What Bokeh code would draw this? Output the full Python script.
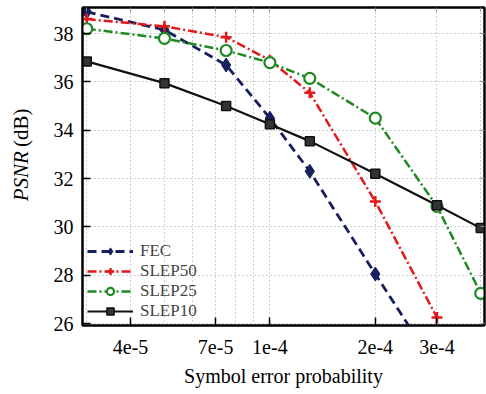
import math
from bokeh.plotting import figure
from bokeh.layouts import row
from bokeh.models import (FixedTicker, CustomJSTickFormatter, Legend, LegendItem,
                          Label, Range1d, LogAxis, LinearAxis)
from bokeh.embed import file_html
from bokeh.resources import INLINE

# ---- data ----
ser = [3e-5, 5e-5, 7.5e-5, 1e-4, 1.3e-4, 2e-4, 3e-4, 4e-4]
fec = [38.9, 38.15, 36.7, 34.5, 32.3, 28.05, 24.1]
slep50 = [38.6, 38.3, 37.85, 36.9, 35.55, 31.05, 26.25]
slep25 = [38.2, 37.8, 37.3, 36.8, 36.15, 34.5, 30.85, 27.25]
slep10 = [36.85, 35.95, 35.0, 34.25, 33.55, 32.2, 30.9, 29.95]
series_names = ["FEC", "SLEP50", "SLEP25", "SLEP10"]
x_major = [4e-5, 7e-5, 1e-4, 2e-4, 3e-4]
x_minor = [3e-5, 5e-5, 6e-5, 8e-5, 9e-5, 4e-4]
y_ticks = [26, 28, 30, 32, 34, 36, 38]

FONT = "Liberation Serif"
XMIN, XMAX = 2.917e-5, 4.1e-4
YMIN, YMAX = 25.92, 39.08
H = 392
LW = 40

p = figure(width=486 - LW, height=H, x_axis_type="log",
           x_range=Range1d(XMIN, XMAX), y_range=Range1d(YMIN, YMAX),
           output_backend="svg", toolbar_location=None,
           min_border_left=82 - LW, min_border_right=2, min_border_top=7,
           min_border_bottom=H - 325)
p.outline_line_color = "black"
p.outline_line_width = 2
p.background_fill_color = "white"
p.border_fill_color = "white"

# axes
p.xaxis.ticker = FixedTicker(ticks=x_major, minor_ticks=x_minor)
p.xaxis.formatter = CustomJSTickFormatter(code="return tick.toExponential(0);")
p.yaxis.ticker = FixedTicker(ticks=y_ticks)
for ax in (p.xaxis[0], p.yaxis[0]):
    ax.axis_line_color = "black"
    ax.axis_line_width = 2
    ax.major_tick_in = 8
    ax.major_tick_out = 0
    ax.major_tick_line_width = 1.5
    ax.major_tick_line_color = "black"
    ax.minor_tick_line_color = None
    ax.major_label_text_font = FONT
    ax.major_label_text_font_size = "20px"
    ax.major_label_text_color = "black"
    ax.axis_label_text_font = FONT
    ax.axis_label_text_font_size = "20px"
    ax.axis_label_text_font_style = "normal"
    ax.axis_label_text_color = "black"
p.xaxis.major_label_standoff = 10
p.yaxis.major_label_standoff = 9
p.xaxis.axis_label = "Symbol error probability"
p.xaxis.axis_label_standoff = 8

# box axes (top / right): small grey inward ticks, no labels
top_ax = LogAxis(ticker=FixedTicker(ticks=x_major, minor_ticks=x_minor),
                 formatter=CustomJSTickFormatter(code="return '';"))
right_ax = LinearAxis(ticker=FixedTicker(ticks=y_ticks),
                      formatter=CustomJSTickFormatter(code="return '';"))
for ax in (top_ax, right_ax):
    ax.axis_line_color = "black"
    ax.axis_line_width = 2
    ax.major_tick_in = 4
    ax.major_tick_out = 0
    ax.minor_tick_in = 4
    ax.minor_tick_out = 0
    ax.major_tick_line_color = "#8a8a8a"
    ax.minor_tick_line_color = "#8a8a8a"
    ax.major_label_text_font_size = "0px"
    ax.major_label_standoff = 0
right_ax.minor_tick_line_color = None
p.add_layout(top_ax, "above")
p.add_layout(right_ax, "right")

# grids
p.xgrid.grid_line_color = "#a0a0a0"
p.xgrid.grid_line_dash = "1 3"
p.xgrid.minor_grid_line_color = "#a0a0a0"
p.xgrid.minor_grid_line_dash = "1 3"
p.ygrid.grid_line_color = "#a0a0a0"
p.ygrid.grid_line_dash = "1 3"

# series
navy = "#17205c"
red = "#e3191c"
green = "#1f8a22"
black = "#111111"

l1 = p.line(ser[:len(fec)], fec, line_color=navy, line_width=2.8, line_dash="9 5")
m1 = p.scatter(ser[:len(fec)], fec, marker="diamond", size=14, fill_color=navy,
               line_color=navy)
l2 = p.line(ser[:len(slep50)], slep50, line_color=red, line_width=2.5, line_dash="9 3 2 3")
m2 = p.scatter(ser[:len(slep50)], slep50, marker="cross", size=11, line_color=red,
               line_width=2.5)
l3 = p.line(ser, slep25, line_color=green, line_width=2.5, line_dash="9 3 2 3")
m3 = p.scatter(ser, slep25, marker="circle", size=11, fill_color="white",
               line_color=green, line_width=2.2)
l4 = p.line(ser, slep10, line_color=black, line_width=2.2)
m4 = p.scatter(ser, slep10, marker="square", size=9, fill_color="#333333",
               line_color=black, line_width=1.5)

# one legend per entry so the rows can sit as tightly as in the reference
rends = [[l1, m1], [l2, m2], [l3, m3], [l4, m4]]
row_offsets = [64, 44, 24, 4]
for name, rr, yoff in zip(series_names, rends, row_offsets):
    lg = Legend(items=[LegendItem(label=name, renderers=rr)], location=(5, yoff))
    lg.background_fill_alpha = 0
    lg.border_line_color = None
    lg.label_text_font = FONT
    lg.label_text_font_size = "17px"
    lg.label_height = 18
    lg.glyph_height = 18
    lg.glyph_width = 46
    lg.spacing = 0
    lg.padding = 0
    lg.margin = 0
    lg.label_standoff = 7
    p.add_layout(lg, "center")

# narrow side panel holding the y-axis title (italic PSNR + upright (dB))
side = figure(width=LW, height=H, x_range=Range1d(0, LW), y_range=Range1d(0, H),
              output_backend="svg", toolbar_location=None,
              min_border=0, min_border_left=0, min_border_right=0,
              min_border_top=0, min_border_bottom=0)
side.axis.visible = False
side.grid.visible = False
side.outline_line_color = None
side.background_fill_color = "white"
side.border_fill_color = "white"
side.add_layout(Label(x=20, y=H - 177, text="PSNR", angle=math.pi / 2,
                      text_align="right", text_baseline="middle",
                      text_font=FONT, text_font_size="21px", text_font_style="italic",
                      text_color="black"))
side.add_layout(Label(x=20, y=H - 172, text="(dB)", angle=math.pi / 2,
                      text_align="left", text_baseline="middle",
                      text_font=FONT, text_font_size="21px", text_color="black"))

layout = row(side, p, spacing=0)
open("out.html", "w").write(file_html(layout, INLINE))
